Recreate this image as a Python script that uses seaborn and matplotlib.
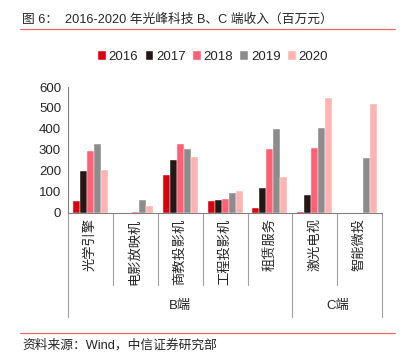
import matplotlib
matplotlib.use("Agg")
import matplotlib.pyplot as plt
from matplotlib.lines import Line2D
import pandas as pd
import seaborn as sns

# product lines (inner level) and their business segment (outer level)
categories = ["光学引擎", "电影放映机", "商教投影机", "工程投影机", "租赁服务", "激光电视", "智能微投"]
segments = ["B端", "B端", "B端", "B端", "B端", "C端", "C端"]
years = ["2016", "2017", "2018", "2019", "2020"]

# revenue, million yuan
rev_2016 = [55, 0, 178, 58, 22, 3, 0]
rev_2017 = [200, 0, 254, 63, 120, 83, 0]
rev_2018 = [297, 5, 328, 66, 306, 309, 0]
rev_2019 = [330, 60, 302, 92, 400, 405, 260]
rev_2020 = [202, 30, 268, 103, 172, 550, 520]

colors = ["#d7000f", "#231815", "#ff6073", "#8c8c8c", "#ffb3b3"]

rows = []
for yr, vals in zip(years, [rev_2016, rev_2017, rev_2018, rev_2019, rev_2020]):
    for cat, v in zip(categories, vals):
        rows.append({"category": cat, "year": yr, "value": v})
df = pd.DataFrame(rows)

sns.set_style("white")
plt.rcParams["font.family"] = ["Liberation Sans", "Noto Sans CJK SC"]
plt.rcParams["font.size"] = 9

fig = plt.figure(figsize=(4.08, 3.55), dpi=100)
ax = fig.add_axes([0.1667, 0.4008, 0.770, 0.354])

sns.barplot(data=df, x="category", y="value", hue="year", order=categories,
            hue_order=years, palette=colors, saturation=1, width=0.78,
            edgecolor="white", linewidth=0.3, ax=ax, legend=True)

ax.set_xlim(-0.5, len(categories) - 0.5)
ax.set_ylim(0, 600)
ax.set_yticks(range(0, 601, 100))
ax.set_xlabel("")
ax.set_ylabel("")
for s in ["top", "right"]:
    ax.spines[s].set_visible(False)
for s in ["left", "bottom"]:
    ax.spines[s].set_color("#808080")
    ax.spines[s].set_linewidth(0.8)
ax.tick_params(axis="y", length=3, color="#808080", pad=2, labelsize=9.5)
ax.tick_params(axis="x", length=0, pad=4)
ax.set_xticks(range(len(categories)))
ax.set_xticklabels(categories, rotation=90, va="top", fontsize=9.5)

# multi-level category axis separators
trans = ax.get_xaxis_transform()
sep_kw = dict(color="#a0a0a0", lw=0.8, clip_on=False, transform=trans)
for i in range(len(categories) + 1):
    pos = i - 0.5
    outer = i == 0 or i == len(categories) or segments[i] != segments[i - 1]
    ax.add_line(Line2D([pos, pos], [0, -0.83 if outer else -0.575], **sep_kw))

seg_names = list(dict.fromkeys(segments))
for seg in seg_names:
    idx = [i for i, s in enumerate(segments) if s == seg]
    ax.text((idx[0] + idx[-1]) / 2, -0.745, seg, transform=trans,
            ha="center", va="center", fontsize=9.5)

leg = ax.legend(loc="center", bbox_to_anchor=(0.522, 0.839), bbox_transform=fig.transFigure,
                ncol=5, frameon=False, handlelength=0.6, handleheight=0.6,
                handletextpad=0.2, columnspacing=0.55, fontsize=9.5)

fig.text(0.054, 0.944, "图 6：  2016-2020 年光峰科技 B、C 端收入（百万元）",
         ha="left", va="center", fontsize=9.2)
fig.add_artist(Line2D([0.049, 0.968], [0.918, 0.918], color="#e46a6a", lw=0.9,
                      transform=fig.transFigure))
fig.add_artist(Line2D([0.049, 0.968], [0.062, 0.062], color="#e46a6a", lw=0.9,
                      transform=fig.transFigure))
fig.text(0.054, 0.028, "资料来源：Wind，中信证券研究部", ha="left", va="center", fontsize=9.2)

fig.savefig("out.png", dpi=100)
